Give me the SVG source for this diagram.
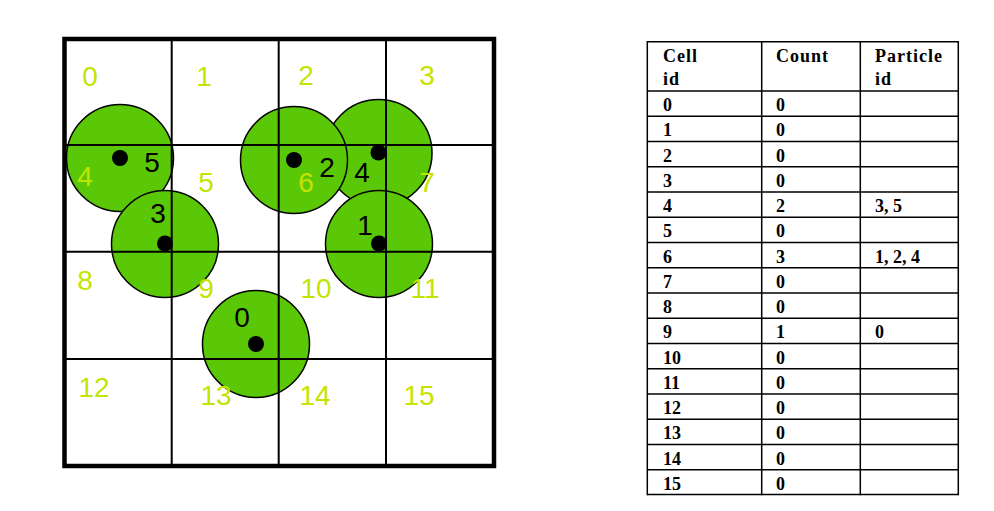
<svg xmlns="http://www.w3.org/2000/svg" width="994" height="511" viewBox="0 0 994 511">
<style>
.disc{fill:#5ac806;stroke:#000;stroke-width:1.5}
.dot{fill:#000}
.gl{stroke:#000;stroke-width:2;fill:none}
.cell{font-family:"Liberation Sans",Arial,sans-serif;font-size:28px;fill:#c4e400;text-anchor:middle}
.pl{font-family:"Liberation Sans",Arial,sans-serif;font-size:28px;fill:#000;text-anchor:middle}
.tl{stroke:#000;stroke-width:1.5}
.tt{font-family:"Liberation Serif","Times New Roman",serif;font-weight:bold;font-size:18px;fill:#000}
.th{letter-spacing:1px}
</style>
<rect width="994" height="511" fill="#fff"/>
<g id="particle-discs">
<circle class="disc" cx="120" cy="158" r="53.5"/>
<circle class="disc" cx="165" cy="244" r="53.5"/>
<circle class="disc" cx="378.5" cy="153" r="53.5"/>
<circle class="disc" cx="294" cy="160" r="53.5"/>
<circle class="disc" cx="379" cy="244" r="53.5"/>
<circle class="disc" cx="256" cy="344" r="53.5"/>
</g>
<g id="grid">
<line class="gl" x1="171.7" y1="39" x2="171.7" y2="466"/>
<line class="gl" x1="278.7" y1="39" x2="278.7" y2="466"/>
<line class="gl" x1="386" y1="39" x2="386" y2="466"/>
<line class="gl" x1="64.5" y1="145" x2="494" y2="145"/>
<line class="gl" x1="64.5" y1="251.7" x2="494" y2="251.7"/>
<line class="gl" x1="64.5" y1="359" x2="494" y2="359"/>
<rect x="64.5" y="39" width="429.5" height="427" fill="none" stroke="#000" stroke-width="4.5"/>
</g>
<g id="cell-labels">
<text class="cell" x="90" y="86">0</text>
<text class="cell" x="204" y="86">1</text>
<text class="cell" x="306" y="85">2</text>
<text class="cell" x="427" y="85">3</text>
<text class="cell" x="85" y="186">4</text>
<text class="cell" x="206" y="192">5</text>
<text class="cell" x="306" y="192">6</text>
<text class="cell" x="427" y="192">7</text>
<text class="cell" x="85" y="290">8</text>
<text class="cell" x="206" y="298">9</text>
<text class="cell" x="316" y="298">10</text>
<text class="cell" x="425" y="298">11</text>
<text class="cell" x="94" y="397">12</text>
<text class="cell" x="216" y="405">13</text>
<text class="cell" x="315" y="405">14</text>
<text class="cell" x="419" y="405">15</text>
</g>
<g id="particle-5"><circle class="dot" cx="120" cy="158" r="8"/><text class="pl" x="152" y="172">5</text></g>
<g id="particle-3"><circle class="dot" cx="165" cy="243.5" r="8"/><text class="pl" x="158" y="223">3</text></g>
<g id="particle-2"><circle class="dot" cx="294" cy="160" r="8"/><text class="pl" x="327" y="177">2</text></g>
<g id="particle-4"><circle class="dot" cx="378.5" cy="152.5" r="8"/><text class="pl" x="362" y="182">4</text></g>
<g id="particle-1"><circle class="dot" cx="379" cy="243.5" r="8"/><text class="pl" x="365" y="235">1</text></g>
<g id="particle-0"><circle class="dot" cx="256" cy="344" r="8"/><text class="pl" x="242" y="327">0</text></g>
<g id="connectors"/>
<g id="table">
<g id="table-lines">
<line class="tl" x1="647.3" y1="41.7" x2="958.3" y2="41.7"/>
<line class="tl" x1="647.3" y1="41" x2="647.3" y2="495.2"/>
<line class="tl" x1="761.7" y1="41" x2="761.7" y2="495.2"/>
<line class="tl" x1="860.3" y1="41" x2="860.3" y2="495.2"/>
<line class="tl" x1="958.3" y1="41" x2="958.3" y2="495.2"/>
<line class="tl" x1="647.3" y1="91" x2="958.3" y2="91"/>
<line class="tl" x1="647.3" y1="116.25" x2="958.3" y2="116.25"/>
<line class="tl" x1="647.3" y1="141.5" x2="958.3" y2="141.5"/>
<line class="tl" x1="647.3" y1="166.75" x2="958.3" y2="166.75"/>
<line class="tl" x1="647.3" y1="192" x2="958.3" y2="192"/>
<line class="tl" x1="647.3" y1="217.25" x2="958.3" y2="217.25"/>
<line class="tl" x1="647.3" y1="242.5" x2="958.3" y2="242.5"/>
<line class="tl" x1="647.3" y1="267.75" x2="958.3" y2="267.75"/>
<line class="tl" x1="647.3" y1="293" x2="958.3" y2="293"/>
<line class="tl" x1="647.3" y1="318.25" x2="958.3" y2="318.25"/>
<line class="tl" x1="647.3" y1="343.5" x2="958.3" y2="343.5"/>
<line class="tl" x1="647.3" y1="368.75" x2="958.3" y2="368.75"/>
<line class="tl" x1="647.3" y1="394" x2="958.3" y2="394"/>
<line class="tl" x1="647.3" y1="419.25" x2="958.3" y2="419.25"/>
<line class="tl" x1="647.3" y1="444.5" x2="958.3" y2="444.5"/>
<line class="tl" x1="647.3" y1="469.75" x2="958.3" y2="469.75"/>
<line class="tl" x1="647.3" y1="494.5" x2="958.3" y2="494.5"/>
</g>
<g id="table-text">
<text class="tt th" x="663" y="61.7">Cell</text>
<text class="tt th" x="663" y="85">id</text>
<text class="tt th" x="776" y="61.7">Count</text>
<text class="tt th" x="875" y="61.7">Particle</text>
<text class="tt th" x="875" y="85">id</text>
<text class="tt" x="663" y="111">0</text><text class="tt" x="776" y="111">0</text>
<text class="tt" x="663" y="136.25">1</text><text class="tt" x="776" y="136.25">0</text>
<text class="tt" x="663" y="161.5">2</text><text class="tt" x="776" y="161.5">0</text>
<text class="tt" x="663" y="186.75">3</text><text class="tt" x="776" y="186.75">0</text>
<text class="tt" x="663" y="212">4</text><text class="tt" x="776" y="212">2</text><text class="tt" x="875" y="212">3, 5</text>
<text class="tt" x="663" y="237.25">5</text><text class="tt" x="776" y="237.25">0</text>
<text class="tt" x="663" y="262.5">6</text><text class="tt" x="776" y="262.5">3</text><text class="tt" x="875" y="262.5">1, 2, 4</text>
<text class="tt" x="663" y="287.75">7</text><text class="tt" x="776" y="287.75">0</text>
<text class="tt" x="663" y="313">8</text><text class="tt" x="776" y="313">0</text>
<text class="tt" x="663" y="338.25">9</text><text class="tt" x="776" y="338.25">1</text><text class="tt" x="875" y="338.25">0</text>
<text class="tt" x="663" y="363.5">10</text><text class="tt" x="776" y="363.5">0</text>
<text class="tt" x="663" y="388.75">11</text><text class="tt" x="776" y="388.75">0</text>
<text class="tt" x="663" y="414">12</text><text class="tt" x="776" y="414">0</text>
<text class="tt" x="663" y="439.25">13</text><text class="tt" x="776" y="439.25">0</text>
<text class="tt" x="663" y="464.5">14</text><text class="tt" x="776" y="464.5">0</text>
<text class="tt" x="663" y="489.75">15</text><text class="tt" x="776" y="489.75">0</text>
</g>
</g>
</svg>
